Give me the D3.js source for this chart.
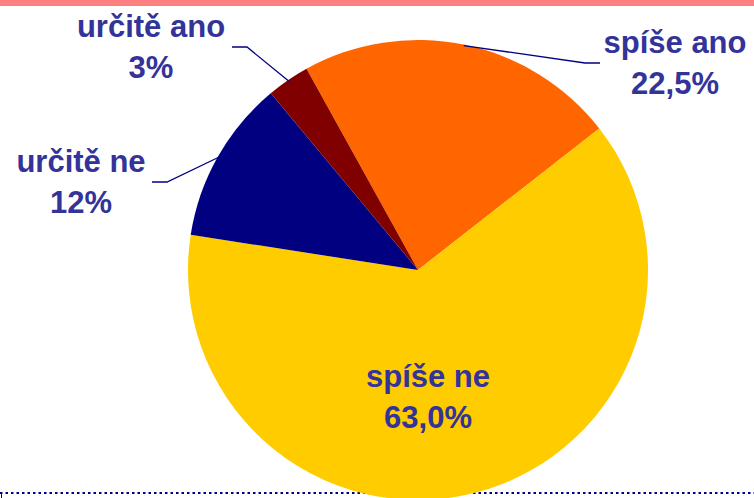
<!DOCTYPE html>
<html>
<head>
<meta charset="utf-8">
<script src="https://cdn.jsdelivr.net/npm/d3@7"></script>
<style>
  body { margin: 0; background: #fff; }
  svg { display: block; }
  .lbl { font-family: "Liberation Sans", Arial, sans-serif; font-weight: bold; font-size: 31px; fill: #333399; }
</style>
</head>
<body>
<svg id="chart"></svg>
<script>
// data
const categories = ["spíše ano", "spíše ne", "určitě ne", "určitě ano"];
const values = [22.5, 63.0, 11.5, 3.0];
const valueLabels = ["22,5%", "63,0%", "12%", "3%"];
const colors = ["#FF6600", "#FFCC00", "#000080", "#800000"];

const width = 754;
const height = 498;
const cx = 418;
const cy = 270;
const radius = 230;

// where each label sits (text centre x, first baseline y, leader elbow, leader end)
const labelLayout = {
  "spíše ano": { x: 675, y: 53, elbow: [585, 63], end: [600, 63] },
  "spíše ne": { x: 428, y: 387 },
  "určitě ne": { x: 81, y: 172, elbow: [167, 182], end: [152, 182] },
  "určitě ano": { x: 151, y: 37, elbow: [247, 47], end: [232, 47] },
};

const svg = d3.select("#chart")
  .attr("width", width)
  .attr("height", height);

// dotted baseline, drawn under the pie
svg.append("line")
  .attr("x1", 0).attr("x2", width)
  .attr("y1", 493).attr("y2", 493)
  .attr("stroke", "#000080")
  .attr("stroke-width", 2)
  .attr("stroke-dasharray", "2.5,3");
svg.append("line")
  .attr("x1", 1.5).attr("x2", 1.5)
  .attr("y1", 492).attr("y2", 498)
  .attr("stroke", "#000080")
  .attr("stroke-width", 1);

const start = -29 * Math.PI / 180;
const pie = d3.pie()
  .sort(null)
  .value((d) => d.value)
  .startAngle(start)
  .endAngle(start + 2 * Math.PI);

const data = categories.map((c, i) => ({
  name: c, value: values[i], label: valueLabels[i], color: colors[i],
}));
const arcs = pie(data);

const arc = d3.arc().innerRadius(0).outerRadius(radius);
const edgeArc = d3.arc().innerRadius(radius - 1).outerRadius(radius - 1);

const g = svg.append("g").attr("transform", `translate(${cx},${cy})`);

g.selectAll("path")
  .data(arcs)
  .join("path")
  .attr("d", arc)
  .attr("fill", (d) => d.data.color);

// leader lines
arcs.forEach((d) => {
  const lay = labelLayout[d.data.name];
  if (!lay.elbow) return;
  const p = edgeArc.centroid(d);
  const pts = [[p[0] + cx, p[1] + cy], lay.elbow, lay.end];
  svg.append("path")
    .attr("d", d3.line()(pts))
    .attr("fill", "none")
    .attr("stroke", "#000080")
    .attr("stroke-width", 1.3);
});

// top band
svg.append("rect")
  .attr("x", 0).attr("y", 0)
  .attr("width", width).attr("height", 6)
  .attr("fill", "#FF7F7F");

// labels
arcs.forEach((d) => {
  const lay = labelLayout[d.data.name];
  const t = svg.append("text")
    .attr("class", "lbl")
    .attr("text-anchor", "middle");
  t.append("tspan").attr("x", lay.x).attr("y", lay.y).text(d.data.name);
  t.append("tspan").attr("x", lay.x).attr("y", lay.y + 41).text(d.data.label);
});
</script>
</body>
</html>
